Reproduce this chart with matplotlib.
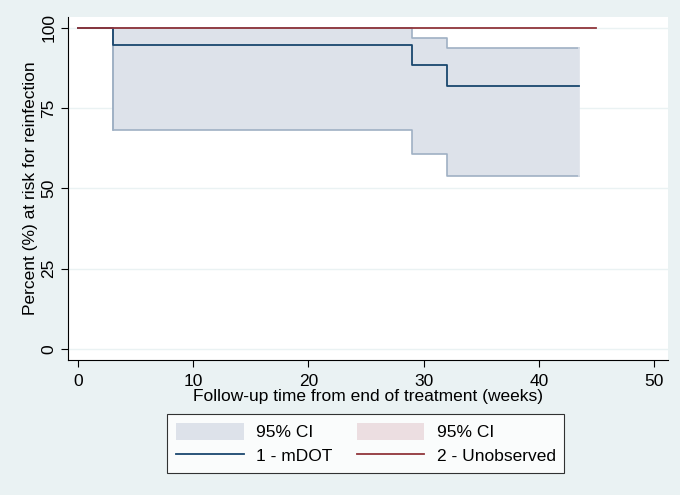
import numpy as np
import matplotlib.pyplot as plt
from matplotlib.patches import Patch
from matplotlib.lines import Line2D

plt.rcParams['font.family'] = ['Liberation Sans', 'DejaVu Sans']

# Kaplan-Meier estimates
t_mdot = [0, 3, 29, 32, 43.5]
s_mdot = [100, 94.7, 88.4, 82.0, 82.0]
ci_hi = [100, 100, 96.8, 93.8, 93.8]
ci_lo = [100, 68.1, 60.7, 53.8, 53.8]

t_unobs = [0, 45.0]
s_unobs = [100, 100]

xticks = [0, 10, 20, 30, 40, 50]
yticks = [0, 25, 50, 75, 100]

bg = '#eaf2f3'
blue = '#1a476f'
red = '#90353b'
ci_fill = '#dde2ea'
ci_edge = '#9fb0c4'

fig = plt.figure(figsize=(6.8, 4.95), dpi=100, facecolor=bg)
ax = fig.add_axes([0.1, 0.273, 0.882, 0.693])
ax.set_facecolor('white')

ax.fill_between(t_mdot, ci_lo, ci_hi, step='post', color=ci_fill, lw=0)
ax.step(t_mdot, ci_hi, where='post', color=ci_edge, lw=1.2)
ax.step(t_mdot, ci_lo, where='post', color=ci_edge, lw=1.2)
ax.plot([3, 3], [ci_lo[1], ci_hi[1]], color=ci_edge, lw=1.2)
ax.plot([43.5, 43.5], [ci_lo[-1], ci_hi[-1]], color=ci_fill, lw=1.2)
ax.step(t_mdot, s_mdot, where='post', color=blue, lw=1.3)
ax.step(t_unobs, s_unobs, where='post', color=red, lw=1.3)

ax.set_xlim(-0.87, 51.2)
ax.set_ylim(-3.4, 103.4)
ax.set_xticks(xticks)
ax.set_yticks(yticks)
ax.set_yticklabels([str(v) for v in yticks], rotation=90, va='center')
ax.grid(axis='y', color=bg, lw=1)
ax.set_axisbelow(True)
for s in ['top', 'right']:
    ax.spines[s].set_visible(False)
for s in ['left', 'bottom']:
    ax.spines[s].set_color('black')
    ax.spines[s].set_linewidth(0.8)
ax.tick_params(direction='out', length=5, width=0.8, labelsize=12.5, colors='black')
ax.tick_params(axis='x', pad=5)

ax.set_xlabel('Follow-up time from end of treatment (weeks)', fontsize=12.5, labelpad=0)
ax.set_ylabel('Percent (%) at risk for reinfection', fontsize=12.5, labelpad=2)

handles = [Patch(facecolor=ci_fill, edgecolor='none'),
           Line2D([], [], color=blue, lw=1.3),
           Patch(facecolor='#ecdee1', edgecolor='none'),
           Line2D([], [], color=red, lw=1.3)]
labels = ['95% CI', '1 - mDOT', '95% CI', '2 - Unobserved']
leg = fig.legend(handles, labels, ncol=2, loc='center', bbox_to_anchor=(0.538, 0.104),
                 fontsize=12.5, frameon=True, fancybox=False, edgecolor='black',
                 handlelength=3.9, handleheight=1.2, columnspacing=1.4, borderpad=0.5,
                 labelspacing=0.35, handletextpad=0.7)
leg.get_frame().set_linewidth(0.8)

fig.savefig('out.png', dpi=100, facecolor=bg)
